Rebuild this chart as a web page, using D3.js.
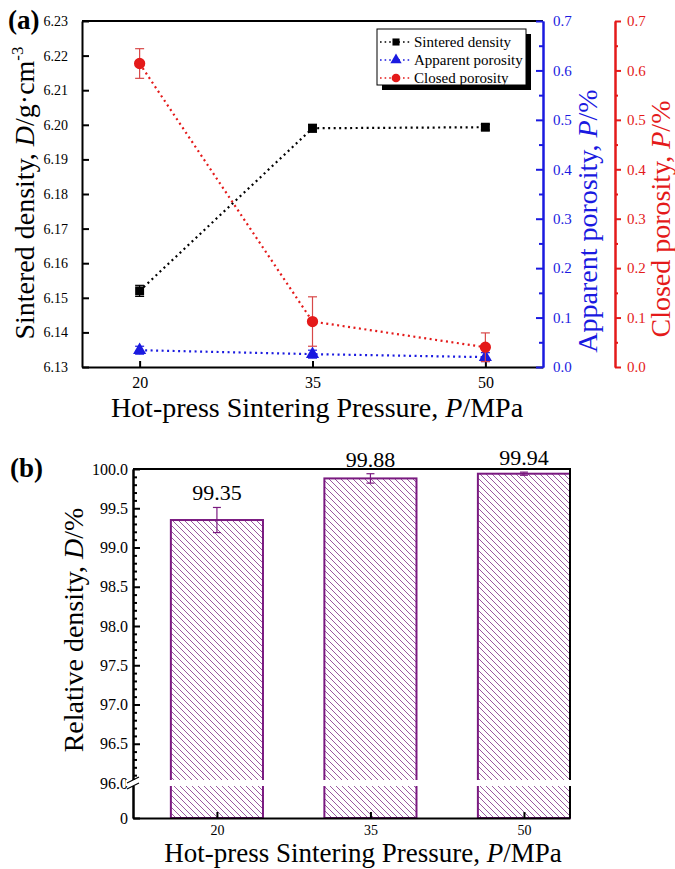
<!DOCTYPE html>
<html>
<head>
<meta charset="utf-8">
<script src="https://cdn.jsdelivr.net/npm/d3@7"></script>
<style>
body { margin: 0; background: #fff; }
</style>
</head>
<body>
<div id="chart-area"></div>
<script>
/******************************
*            DATA             *
******************************/
const pressures = [20, 35, 50];

const sinteredDensity = [6.152, 6.199, 6.1993];
const sinteredErr = [0.0016, 0.0011, 0.0008];
const apparentPorosity = [0.034, 0.026, 0.020];
const apparentErr = [0.008, 0.008, 0.009];
const closedPorosity = [0.614, 0.092, 0.040];
const closedErr = [0.03, 0.05, 0.029];

const relativeDensity = [99.35, 99.88, 99.94];
const relativeErr = [0.16, 0.06, 0.02];

const densityTicks = [6.13, 6.14, 6.15, 6.16, 6.17, 6.18, 6.19, 6.20, 6.21, 6.22, 6.23];
const porosityTicks = [0.0, 0.1, 0.2, 0.3, 0.4, 0.5, 0.6, 0.7];
const porosityMinor = [0.05, 0.15, 0.25, 0.35, 0.45, 0.55, 0.65];
const relTicks = [0, 96.0, 96.5, 97.0, 97.5, 98.0, 98.5, 99.0, 99.5, 100.0];
const legendNames = ["Sintered density", "Apparent porosity", "Closed porosity"];

const FONT = "'Liberation Serif', 'Times New Roman', Times, serif";
const BLUE = "#1a1ae0";
const RED = "#e41a1a";
const PURPLE = "#7a1a80";

var svg = d3.select("#chart-area")
	.append("svg")
		.attr("width", 675)
		.attr("height", 869)
		.attr("font-family", FONT);

/******************************
*          PANEL (a)          *
******************************/
var x = d3.scaleLinear().domain([15, 55]).range([82, 543]);
var yD = d3.scaleLinear().domain([6.13, 6.23]).range([367, 21]);
var yP = d3.scaleLinear().domain([0, 0.7]).range([367, 21]);

function styleAxis(sel, color, size) {
	sel.attr("font-family", FONT);
	sel.selectAll("path").attr("stroke", color).attr("stroke-width", 2);
	sel.selectAll("line").attr("stroke", color).attr("stroke-width", 2);
	sel.selectAll("text").attr("fill", color).style("font-size", size + "px");
}

// x-axis
var g = svg.append("g")
	.attr("transform", "translate(0,367)")
	.call(d3.axisBottom(x).tickValues(pressures).tickSize(-6).tickSizeOuter(0).tickPadding(10));
styleAxis(g, "#000", 16);

// top border
svg.append("line")
	.attr("x1", 82).attr("x2", 543).attr("y1", 21).attr("y2", 21)
	.attr("stroke", "#000").attr("stroke-width", 2);

// left axis
g = svg.append("g")
	.attr("transform", "translate(82,0)")
	.call(d3.axisLeft(yD).tickValues(densityTicks).tickFormat(d3.format(".2f"))
		.tickSize(-7).tickSizeOuter(0).tickPadding(14));
styleAxis(g, "#000", 14);

// blue axis
g = svg.append("g")
	.attr("transform", "translate(543,0)")
	.call(d3.axisRight(yP).tickValues(porosityTicks).tickFormat(d3.format(".1f"))
		.tickSize(-7).tickSizeOuter(0).tickPadding(10));
styleAxis(g, BLUE, 15);
g = svg.append("g")
	.attr("transform", "translate(543,0)")
	.call(d3.axisRight(yP).tickValues(porosityMinor).tickFormat("").tickSize(-4).tickSizeOuter(0));
styleAxis(g, BLUE, 15);

// red axis
g = svg.append("g")
	.attr("transform", "translate(615,0)")
	.call(d3.axisRight(yP).tickValues(porosityTicks).tickFormat(d3.format(".1f"))
		.tickSize(6).tickSizeOuter(0).tickPadding(6));
styleAxis(g, RED, 15);
g = svg.append("g")
	.attr("transform", "translate(615,0)")
	.call(d3.axisRight(yP).tickValues(porosityMinor).tickFormat("").tickSize(3).tickSizeOuter(0));
styleAxis(g, RED, 15);

// labels
svg.append("text")
	.attr("x", 8).attr("y", 29)
	.style("font-size", "27px").style("font-weight", "bold")
	.text("(a)");

var t = svg.append("text")
	.attr("transform", "translate(34,193) rotate(-90)")
	.attr("text-anchor", "middle")
	.style("font-size", "28px");
t.append("tspan").text("Sintered density, ");
t.append("tspan").style("font-style", "italic").text("D");
t.append("tspan").text("/g\u00b7cm");
t.append("tspan").attr("dy", -11).style("font-size", "17px").text("-3");

t = svg.append("text")
	.attr("transform", "translate(597,221) rotate(-90)")
	.attr("text-anchor", "middle")
	.attr("fill", BLUE)
	.style("font-size", "28px");
t.append("tspan").text("Apparent porosity, ");
t.append("tspan").style("font-style", "italic").text("P");
t.append("tspan").text("/%");

t = svg.append("text")
	.attr("transform", "translate(670,219) rotate(-90)")
	.attr("text-anchor", "middle")
	.attr("fill", RED)
	.style("font-size", "28px");
t.append("tspan").text("Closed porosity, ");
t.append("tspan").style("font-style", "italic").text("P");
t.append("tspan").text("/%");

t = svg.append("text")
	.attr("x", 317).attr("y", 417)
	.attr("text-anchor", "middle")
	.style("font-size", "28px");
t.append("tspan").text("Hot-press Sintering Pressure, ");
t.append("tspan").style("font-style", "italic").text("P");
t.append("tspan").text("/MPa");

/******************************
*           SERIES            *
******************************/
function drawSeries(values, errs, yScale, color, errColor, shape, size) {
	var s = svg.append("g");
	s.append("path")
		.datum(values)
		.attr("fill", "none")
		.attr("stroke", color)
		.attr("stroke-width", 2.2)
		.attr("stroke-dasharray", "2,3.5")
		.attr("d", d3.line().x((d, i) => x(pressures[i])).y((d) => yScale(d)));

	values.forEach((v, i) => {
		var cx = x(pressures[i]);
		var top = yScale(v + errs[i]), bot = yScale(v - errs[i]);
		s.append("line").attr("x1", cx).attr("x2", cx).attr("y1", top).attr("y2", bot)
			.attr("stroke", errColor).attr("stroke-width", 1.2);
		[top, bot].forEach((yy) => {
			s.append("line").attr("x1", cx - 4.5).attr("x2", cx + 4.5).attr("y1", yy).attr("y2", yy)
				.attr("stroke", errColor).attr("stroke-width", 1.2);
		});
		s.append("path")
			.attr("transform", "translate(" + cx + "," + yScale(v) + ")")
			.attr("d", d3.symbol().type(shape).size(size)())
			.attr("fill", color);
	});
}

drawSeries(sinteredDensity, sinteredErr, yD, "#000", "#000", d3.symbolSquare, 80);
drawSeries(apparentPorosity, apparentErr, yP, BLUE, BLUE, d3.symbolTriangle, 75);
drawSeries(closedPorosity, closedErr, yP, RED, "#d84848", d3.symbolCircle, 100);

/******************************
*           LEGEND            *
******************************/
var legend = svg.append("g").attr("transform", "translate(377,29)");
legend.append("rect").attr("x", 5).attr("y", 5).attr("width", 149).attr("height", 56).attr("fill", "#000");
legend.append("rect").attr("width", 149).attr("height", 56).attr("fill", "#fff")
	.attr("stroke", "#000").attr("stroke-width", 1);

var legendColors = ["#000", BLUE, RED];
var legendShapes = [d3.symbolSquare, d3.symbolTriangle, d3.symbolCircle];
var legendSizes = [50, 55, 60];
legendNames.forEach((name, i) => {
	var row = legend.append("g").attr("transform", "translate(0," + (13 + i * 18) + ")");
	row.append("line").attr("x1", 3).attr("x2", 33).attr("y1", 0).attr("y2", 0)
		.attr("stroke", legendColors[i]).attr("stroke-width", 1.6).attr("stroke-dasharray", "1.6,3");
	row.append("path").attr("transform", "translate(19,0)")
		.attr("d", d3.symbol().type(legendShapes[i]).size(legendSizes[i])())
		.attr("fill", legendColors[i]);
	row.append("text").attr("x", 37).attr("y", 5).style("font-size", "15px").text(name);
});

/******************************
*          PANEL (b)          *
******************************/
var xb = d3.scaleLinear().domain([11.8, 54.5]).range([133, 570]);
var yb = d3.scaleLinear().domain([0, 96, 100]).range([818, 783, 469]);

var defs = svg.append("defs");
var pat = defs.append("pattern")
	.attr("id", "hatch")
	.attr("patternUnits", "userSpaceOnUse")
	.attr("width", 6).attr("height", 6);
pat.append("path")
	.attr("d", "M0,0L6,6M-1,5L1,7M5,-1L7,1")
	.attr("stroke", "#9a5aa0").attr("stroke-width", 1);

var bars = svg.append("g");
relativeDensity.forEach((v, i) => {
	var x0 = xb(pressures[i] - 4.5), x1 = xb(pressures[i] + 4.5);
	bars.append("rect")
		.attr("x", x0).attr("y", yb(v))
		.attr("width", x1 - x0).attr("height", yb(0) - yb(v))
		.attr("fill", "url(#hatch)")
		.attr("stroke", PURPLE).attr("stroke-width", 2);
});

// axes
g = svg.append("g")
	.attr("transform", "translate(0,818)")
	.call(d3.axisBottom(xb).tickValues(pressures).tickSize(-6).tickSizeOuter(0).tickPadding(7));
styleAxis(g, "#000", 14);

g = svg.append("g")
	.attr("transform", "translate(133,0)")
	.call(d3.axisLeft(yb).tickValues(relTicks)
		.tickFormat((d) => d === 0 ? "0" : d3.format(".1f")(d))
		.tickSize(-7).tickSizeOuter(0).tickPadding(5));
styleAxis(g, "#000", 16);

var relMinor = d3.range(96.1, 100, 0.1).filter((d) => Math.abs(d * 2 - Math.round(d * 2)) > 0.01);
g = svg.append("g")
	.attr("transform", "translate(133,0)")
	.call(d3.axisLeft(yb).tickValues(relMinor).tickFormat("").tickSize(-4).tickSizeOuter(0));
styleAxis(g, "#000", 16);

// frame
svg.append("path")
	.attr("d", "M133,469H570V818")
	.attr("fill", "none").attr("stroke", "#000").attr("stroke-width", 2);

// axis break
svg.append("rect")
	.attr("x", 126).attr("y", 780).attr("width", 446).attr("height", 6)
	.attr("fill", "#fff");
[0, 6].forEach((o) => {
	svg.append("line")
		.attr("x1", 127).attr("y1", 783 + o).attr("x2", 139).attr("y2", 777 + o)
		.attr("stroke", "#000").attr("stroke-width", 1.2);
});

// error bars + value labels
relativeDensity.forEach((v, i) => {
	var cx = xb(pressures[i]);
	var top = yb(v + relativeErr[i]), bot = yb(v - relativeErr[i]);
	svg.append("line").attr("x1", cx).attr("x2", cx).attr("y1", top).attr("y2", bot)
		.attr("stroke", PURPLE).attr("stroke-width", 1.2);
	[top, bot].forEach((yy) => {
		svg.append("line").attr("x1", cx - 4).attr("x2", cx + 4).attr("y1", yy).attr("y2", yy)
			.attr("stroke", PURPLE).attr("stroke-width", 1.2);
	});
	svg.append("text")
		.attr("x", cx).attr("y", top - 7)
		.attr("text-anchor", "middle")
		.style("font-size", "22px")
		.text(d3.format(".2f")(v));
});

svg.append("text")
	.attr("x", 10).attr("y", 477)
	.style("font-size", "27px").style("font-weight", "bold")
	.text("(b)");

t = svg.append("text")
	.attr("transform", "translate(83,630) rotate(-90)")
	.attr("text-anchor", "middle")
	.style("font-size", "28px");
t.append("tspan").text("Relative density, ");
t.append("tspan").style("font-style", "italic").text("D");
t.append("tspan").text("/%");

t = svg.append("text")
	.attr("x", 363).attr("y", 862)
	.attr("text-anchor", "middle")
	.style("font-size", "27px");
t.append("tspan").text("Hot-press Sintering Pressure, ");
t.append("tspan").style("font-style", "italic").text("P");
t.append("tspan").text("/MPa");

svg.selectAll("text").attr("font-family", FONT);
</script>
</body>
</html>
